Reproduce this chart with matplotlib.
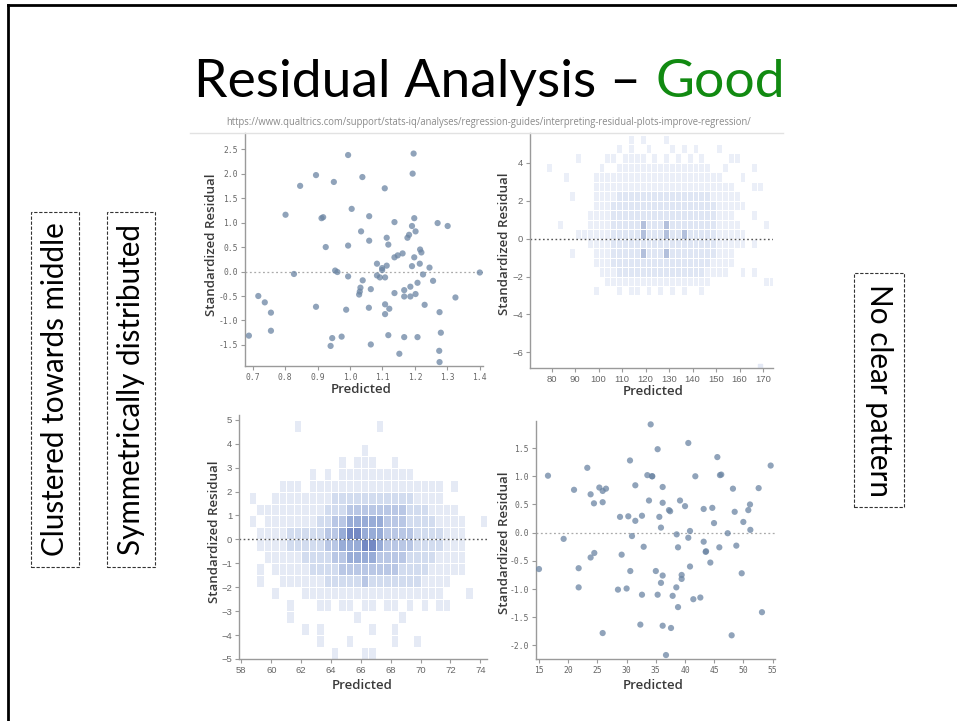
import numpy as np
import matplotlib
matplotlib.use('Agg')
import matplotlib.pyplot as plt
from matplotlib.colors import ListedColormap
from matplotlib.patches import Rectangle
from matplotlib.lines import Line2D

# ---- data ----
# top-left: predicted vs standardized residual
p1_x = [0.688, 0.717, 0.737, 0.756, 0.756, 0.801, 0.827, 0.846, 0.895, 0.895, 0.912, 0.917,
        0.925, 0.940, 0.945, 0.950, 0.954, 0.961, 0.974, 0.988, 0.994, 0.994, 0.994, 1.005,
        1.034, 1.038, 1.039, 1.032, 1.030, 1.028, 1.059, 1.059, 1.058, 1.064, 1.064, 1.083,
        1.083, 1.092, 1.099, 1.099, 1.107, 1.108, 1.108, 1.108, 1.113, 1.113, 1.118, 1.118,
        1.121, 1.137, 1.137, 1.137, 1.147, 1.152, 1.162, 1.167, 1.167, 1.167, 1.177, 1.182,
        1.186, 1.186, 1.191, 1.191, 1.193, 1.196, 1.198, 1.198, 1.202, 1.202, 1.208, 1.208,
        1.216, 1.220, 1.215, 1.225, 1.230, 1.245, 1.256, 1.270, 1.276, 1.275, 1.276, 1.280,
        1.301, 1.325, 1.400]
p1_y = [-1.31, -0.50, -0.63, -0.84, -1.21, 1.16, -0.05, 1.75, 1.97, -0.72, 1.09, 1.11,
        0.50, -1.52, -1.36, 1.83, 0.02, -0.01, -1.33, -0.78, 2.38, 0.53, -0.10, 1.28,
        0.82, 1.93, -0.18, -0.33, -0.41, -0.47, 0.63, 1.13, -0.74, -0.36, -1.49, 0.16,
        -0.08, -0.12, 0.03, 0.07, 1.70, -0.12, -0.67, -0.87, 0.12, 0.69, 0.55, -1.30,
        -0.76, 1.01, 0.29, -0.44, 0.33, -1.68, 0.37, -0.38, -0.51, -1.34, 0.69, 0.75,
        -0.51, -0.31, 0.11, 0.93, 2.00, 2.41, 1.09, 0.29, 0.82, -0.46, -0.23, -1.34,
        0.45, 0.39, 0.16, -0.06, -0.68, 0.08, -0.19, 0.99, -0.83, -1.62, -1.85, -1.25,
        0.93, -0.53, -0.02]

# bottom-right: predicted vs standardized residual
p4_x = [15.0, 16.54, 19.22, 21.0, 21.79, 21.79, 23.27, 23.84, 23.84, 24.41, 24.47, 25.33,
        25.9, 25.9, 26.47, 25.9, 28.52, 28.87, 29.15, 30.0, 30.29, 30.58, 30.63, 30.92,
        31.49, 31.49, 32.63, 32.63, 32.35, 32.92, 33.55, 33.83, 34.34, 34.40, 34.12, 35.0,
        35.31, 35.31, 35.6, 35.88, 35.88, 36.17, 36.17, 36.17, 36.17, 36.74, 37.25, 37.45,
        37.6, 37.88, 38.51, 38.57, 38.8, 38.8, 39.14, 39.42, 39.42, 40.0, 40.56, 40.56,
        40.85, 40.85, 41.42, 41.76, 42.62, 43.19, 43.19, 43.53, 43.60, 44.33, 44.67, 44.96,
        45.53, 45.87, 45.98, 46.2, 47.3, 48.2, 47.98, 48.5, 48.78, 49.7, 49.98, 50.83,
        51.12, 51.18, 52.6, 53.17, 54.66]
p4_y = [-0.645, 1.01, -0.11, 0.76, -0.63, -0.97, 1.15, 0.68, -0.44, 0.52, -0.36, 0.80,
        0.54, 0.74, 0.78, -1.78, -1.01, 0.28, -0.39, -0.99, 0.29, 1.28, -0.68, -0.06,
        0.21, 0.84, 0.30, -1.10, -1.63, -0.25, 1.02, 0.57, 1.00, 1.00, 1.92, -0.68,
        1.48, -1.10, 0.28, 0.09, -0.89, 0.81, 0.53, -0.76, -1.65, -2.17, 0.40, 0.38,
        -1.69, -1.12, -0.97, -0.03, -0.26, -1.32, 0.57, -0.75, -0.82, 0.47, -0.09, 1.59,
        0.03, -0.60, -1.18, 1.00, -1.15, 0.42, -0.16, -0.34, -0.33, -0.53, 0.44, 0.17,
        1.34, -0.26, 1.02, 1.03, -0.01, 0.78, -1.82, 0.37, -0.23, -0.72, 0.19, 0.40,
        0.50, 0.05, 0.79, -1.41, 1.19]

# top-right: binned density (level per cell), rows from y=5.5 down to y=-3.0, 0.5 tall,
# columns from x=77.5 in steps of 2.5
p2_x0, p2_dx, p2_ytop, p2_dy = 77.5, 2.5, 5.5, 0.5
p2_rows = [
    "0000000000" "0000101000" "1000000000" "0000000000",
    "0000000000" "0010100100" "0101010001" "0000000000",
    "0000010000" "1101111010" "1010101000" "0110000000",
    "1000000001" "0011111111" "1111111100" "1000010000",
    "0001000011" "1111111111" "1111111111" "0001000000",
    "0000000011" "1111111111" "1111111111" "1100011000",
    "0000100011" "1122222222" "2222222211" "1110000000",
    "0000000011" "1222222222" "2222222221" "1111000000",
    "0000000111" "1222222222" "2222222221" "1100010000",
    "0010000111" "1222223222" "3222222221" "1110000100",
    "0000011111" "1222223222" "3223222221" "1111000000",
    "0000000111" "1222222222" "2222222221" "1111010000",
    "0000100011" "1222223222" "3222222221" "1100000000",
    "0000000011" "1222222222" "2222222211" "1100000000",
    "0000000001" "1122222222" "2222222111" "1001010000",
    "0000000000" "1111111111" "1111111100" "0000000110",
    "0000000010" "0010110101" "0101001000" "0000000000",
]
p2_extra_x = [168.9]
p2_extra_y = [-6.7]

# bottom-left: binned density, rows from y=5.0 down to y=-5.0, columns from x=58, 0.5 wide
p3_x0, p3_dx, p3_ytop, p3_dy = 58.0, 0.5, 5.0, 0.5
p3_rows = [
    "0000000100" "0000000010" "0000000000" "0000",
    "0000000000" "0000000000" "0000000000" "0000",
    "0000000000" "0000001000" "0000000000" "0000",
    "0000000000" "0001011100" "1000000000" "0000",
    "0000000001" "0101111111" "1110000000" "0000",
    "0000011101" "1111111111" "1111111010" "0000",
    "0100111111" "1122222222" "2221111000" "0000",
    "0011111111" "1222333333" "3322211110" "0000",
    "0101111111" "2233444443" "3322221111" "0010",
    "0011112222" "2334554443" "3332222111" "0000",
    "0011112222" "2334445543" "3332222111" "0000",
    "0001111122" "2233444433" "3322221111" "0000",
    "0010111112" "2223333333" "3222211111" "0000",
    "0010011111" "1222223222" "2222111100" "0000",
    "0000100011" "1111111111" "1111111000" "1000",
    "0000001000" "1101101101" "1010101100" "0000",
    "0000001000" "0000010000" "0100000000" "0000",
    "0000000010" "1000000100" "1000000000" "0000",
    "0000000000" "1000100000" "1001000000" "0000",
    "0000000000" "0010001100" "0000000000" "0000",
]

title_main = "Residual Analysis \u2013"
title_good = "Good"
url = "https://www.qualtrics.com/support/stats-iq/analyses/regression-guides/interpreting-residual-plots-improve-regression/"
side_left = ["Clustered towards middle", "Symmetrically distributed"]
side_right = "No clear pattern"

W, H = 957, 721
fig = plt.figure(figsize=(W / 100, H / 100), dpi=100)
fig.patch.set_facecolor('white')

def box(px_l, px_t, px_r, px_b):
    # pixel box -> figure fraction [l, b, w, h]
    return [px_l / W, 1 - px_b / H, (px_r - px_l) / W, (px_b - px_t) / H]

def style(ax, mono):
    for s in ['top', 'right']:
        ax.spines[s].set_visible(False)
    for s in ['left', 'bottom']:
        ax.spines[s].set_color('#9a9a9a')
        ax.spines[s].set_linewidth(1.0)
    ax.tick_params(length=3, width=0.8, color='#9a9a9a', labelcolor='#666666',
                   labelsize=5.8 if mono else 6.8, pad=2)
    fam = 'DejaVu Sans Mono' if mono else 'Liberation Sans'
    for lab in ax.get_xticklabels() + ax.get_yticklabels():
        lab.set_family(fam)

def labels(ax, xl, yl):
    ax.text(xl[0], xl[1], 'Predicted', transform=ax.transAxes, ha='center', va='center',
            fontsize=9.5, color='#3a3a3a', family='Open Sans', fontweight='semibold')
    ax.text(yl[0], yl[1], 'Standardized Residual', transform=ax.transAxes, ha='center',
            va='center', rotation=90, fontsize=9.5, color='#3a3a3a', family='Open Sans',
            fontweight='semibold')

def grid_mesh(ax, rows, x0, dx, ytop, dy, colors):
    z = np.array([[int(ch) for ch in r] for r in rows])[::-1]
    nr, nc = z.shape
    xe = x0 + dx * np.arange(nc + 1)
    ye = ytop - dy * nr + dy * np.arange(nr + 1)
    zm = np.ma.masked_equal(z, 0)
    cmap = ListedColormap(colors)
    ax.pcolormesh(xe, ye, zm, cmap=cmap, vmin=0.5, vmax=len(colors) + 0.5,
                  edgecolors='white', linewidth=0.4, zorder=1)

pt_color = '#6b85a3'

# panel 1
ax1 = fig.add_axes(box(245, 133, 483, 366))
ax1.scatter(p1_x, p1_y, s=20, color=pt_color, alpha=0.75, edgecolors='none', zorder=3)
ax1.axhline(0, color='#aaaaaa', lw=0.9, ls=(0, (1.5, 2)), zorder=2)
ax1.set_xlim(0.676, 1.41)
ax1.set_ylim(-1.93, 2.83)
ax1.set_xticks(np.arange(0.7, 1.41, 0.1))
ax1.set_xticklabels(['0.7', '0.8', '0.9', '1.0', '1.1', '1.2', '1.3', '1.4'])
ax1.set_yticks([-1.5, -1.0, -0.5, 0.0, 0.5, 1.0, 1.5, 2.0, 2.5])
ax1.set_yticklabels(['-1.5', '-1.0', '-0.5', '0.0', '0.5', '1.0', '1.5', '2.0', '2.5'])
style(ax1, True)
labels(ax1, (0.49, -0.103), (-0.139, 0.52))

# panel 2
ax2 = fig.add_axes(box(530, 133, 773, 368))
grid_mesh(ax2, p2_rows, p2_x0, p2_dx, p2_ytop, p2_dy, ['#ebeff8', '#dfe6f4', '#b3c0dc'])
ax2.scatter(p2_extra_x, p2_extra_y, marker='s', s=6, color='#e4e9f5', zorder=1)
ax2.axhline(0, color='#555555', lw=1.0, ls=(0, (1.2, 1.8)), zorder=2)
ax2.set_xlim(70.8, 174.25)
ax2.set_ylim(-6.83, 5.58)
ax2.set_xticks(np.arange(80, 171, 10))
ax2.set_yticks([-6, -4, -2, 0, 2, 4])
style(ax2, False)
labels(ax2, (0.506, -0.102), (-0.103, 0.53))

# panel 3
ax3 = fig.add_axes(box(239, 415, 487, 659))
grid_mesh(ax3, p3_rows, p3_x0, p3_dx, p3_ytop, p3_dy,
          ['#e5eaf5', '#d2dcef', '#b9c7e5', '#98acd7', '#7489c4'])
ax3.axhline(0, color='#555555', lw=1.0, ls=(0, (1.2, 1.8)), zorder=2)
ax3.set_xlim(57.84, 74.45)
ax3.set_ylim(-5.0, 5.2)
ax3.set_xticks(np.arange(58, 75, 2))
ax3.set_yticks(np.arange(-5, 6, 1))
style(ax3, False)
labels(ax3, (0.495, -0.107), (-0.097, 0.52))

# panel 4
ax4 = fig.add_axes(box(536, 421, 775, 659))
ax4.scatter(p4_x, p4_y, s=20, color=pt_color, alpha=0.75, edgecolors='none', zorder=3)
ax4.axhline(0, color='#aaaaaa', lw=0.9, ls=(0, (1.5, 2)), zorder=2)
ax4.set_xlim(14.49, 55.4)
ax4.set_ylim(-2.24, 1.98)
ax4.set_xticks(np.arange(15, 56, 5))
ax4.set_yticks([-2.0, -1.5, -1.0, -0.5, 0.0, 0.5, 1.0, 1.5])
ax4.set_yticklabels(['-2.0', '-1.5', '-1.0', '-0.5', '0.0', '0.5', '1.0', '1.5'])
style(ax4, True)
labels(ax4, (0.49, -0.113), (-0.13, 0.49))

# screenshot top edge line
fig.add_artist(Line2D([190 / W, 783 / W], [1 - 133 / H, 1 - 133 / H], color='#e2e2e2', lw=1))

# slide border (top and left)
fig.add_artist(Line2D([8 / W, 1.0], [1 - 5 / H, 1 - 5 / H], color='black', lw=2))
fig.add_artist(Line2D([8 / W, 8 / W], [1 - 5 / H, 0.0], color='black', lw=2))

# title
fig.text(641 / W, 1 - 97 / H, title_main, ha='right', va='baseline', fontsize=38.5,
         family='Lato', color='black')
fig.text(655 / W, 1 - 97 / H, title_good, ha='left', va='baseline', fontsize=38.5,
         family='Lato', color='#118a11')
fig.text(489 / W, 1 - 123 / H, url, ha='center', va='center', fontsize=6.85,
         family='Open Sans', color='#8a8a8a')

# side annotation boxes
for (l, t, r, b), txt, rot in [((31, 212, 79, 567), side_left[0], 90),
                               ((107, 212, 155, 567), side_left[1], 90),
                               ((854, 273, 904, 507), side_right, -90)]:
    fig.add_artist(Rectangle((l / W, 1 - b / H), (r - l) / W, (b - t) / H, fill=False,
                             edgecolor='#333333', lw=0.8, ls=(0, (3, 1.5))))
    fig.text((l + r) / 2 / W, 1 - (t + b) / 2 / H, txt, rotation=rot, ha='center',
             va='center', fontsize=21.3, family='Lato', color='black')

fig.savefig('out.png', dpi=100)
